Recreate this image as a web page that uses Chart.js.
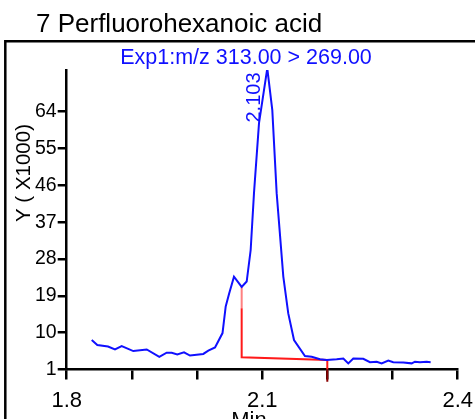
<!DOCTYPE html>
<html><head><meta charset="utf-8">
<script src="https://cdn.jsdelivr.net/npm/chart.js@4/dist/chart.umd.min.js"></script>
<style>html,body{margin:0;padding:0;background:#fff;}#wrap{position:relative;width:475px;height:419px;overflow:hidden;}</style>
</head><body><div id="wrap"><canvas id="c" width="475" height="419"></canvas></div>
<script>
// ---- data ----
const times = [1.8384,1.8470,1.8634,1.8741,1.8844,1.9022,1.9228,1.9421,1.9534,1.9611,1.9697,1.9800,1.9892,2.0096,2.0173,2.0276,2.0391,2.0440,2.0495,2.0567,2.0685,2.0762,2.0823,2.0874,2.0951,2.1078,2.1155,2.1222,2.1324,2.1400,2.1488,2.1656,2.1759,2.1887,2.1990,2.2143,2.2245,2.2321,2.2398,2.2551,2.2654,2.2757,2.2833,2.2935,2.3011,2.3165,2.3294,2.3344,2.3421,2.3524,2.3585];
const intensities = [8.2,7.0,6.6,5.9,6.7,5.5,5.9,4.1,5.1,5.1,4.7,5.2,4.4,4.8,5.6,6.4,9.9,16.4,19.7,23.7,21.2,22.5,30.2,44.1,61.2,74.6,64.4,44.1,23.7,14.7,8.2,4.3,4.1,3.5,3.3,3.5,3.7,2.5,3.7,3.6,2.8,2.9,2.5,3.2,2.8,2.7,2.5,2.9,2.8,2.9,2.8];
const baselineTimes = [2.0685,2.0685,2.0685,2.1999,2.1999,2.1999];
const baselineValues = [21.2,16.0,4.0,3.3,1.0,-2.0];
const xTickValues = [1.8,1.9,2.0,2.1,2.2,2.3,2.4];
const xTickLabels = ['1.8','','','2.1','','','2.4'];
const yTickValues = [1,10,19,28,37,46,55,64];
const yTickLabels = ['1','10','19','28','37','46','55','64'];
const titleText = '7 Perfluorohexanoic acid';
const traceText = 'Exp1:m/z 313.00 > 269.00';
const peakText = '2.103';
const yTitle = 'Y ( X1000)';
const xTitle = 'Min';

const FONT = '"Liberation Sans", Arial, sans-serif';
const BLUE = '#1010ff';

const tracePts = times.map((t,i)=>({x:t,y:intensities[i]}));
const basePts = baselineTimes.map((t,i)=>({x:t,y:baselineValues[i]}));

const decor = {
  id:'decor',
  afterDraw(chart){
    const ctx = chart.ctx;
    ctx.save();
    // frame
    ctx.strokeStyle = '#000';
    ctx.lineWidth = 2.5;
    ctx.beginPath();
    ctx.moveTo(5.3, 419); ctx.lineTo(5.3, 41.3); ctx.lineTo(475, 41.3);
    ctx.stroke();
    // title
    ctx.fillStyle = '#000';
    ctx.font = '26px ' + FONT;
    ctx.textAlign = 'left'; ctx.textBaseline = 'alphabetic';
    ctx.fillText(titleText, 36, 32);
    // trace text
    ctx.fillStyle = BLUE;
    ctx.font = '21.5px ' + FONT;
    ctx.textAlign = 'center';
    ctx.fillText(traceText, 246, 64);
    // peak label
    ctx.save();
    ctx.translate(260, 97.5);
    ctx.rotate(-Math.PI/2);
    ctx.font = '20px ' + FONT;
    ctx.textAlign = 'center';
    ctx.fillText(peakText, 0, 0);
    ctx.restore();
    // y title
    ctx.save();
    ctx.fillStyle = '#000';
    ctx.translate(30, 173);
    ctx.rotate(-Math.PI/2);
    ctx.font = '20.5px ' + FONT;
    ctx.textAlign = 'center';
    ctx.fillText(yTitle, 0, 0);
    ctx.restore();
    // x title
    ctx.fillStyle = '#000';
    ctx.font = '22px ' + FONT;
    ctx.textAlign = 'center';
    ctx.fillText(xTitle, 249, 426.5);
    ctx.restore();
  }
};

new Chart(document.getElementById('c'), {
  type:'line',
  data:{datasets:[
    {data:tracePts, borderColor:BLUE, borderWidth:2, pointRadius:0, tension:0, fill:false},
    {data:basePts, borderWidth:2, pointRadius:0, tension:0, fill:false, clip:false,
     borderColor:'#ff0000',
     segment:{borderColor: c => c.p0DataIndex===0 ? '#ff8080' : (c.p0DataIndex===4 ? '#8b0000' : '#ff1a1a')}}
  ]},
  options:{
    responsive:false, animation:false, devicePixelRatio:1,
    layout:{padding:{top:70,right:17.3,left:0,bottom:0}},
    plugins:{legend:{display:false}, tooltip:{enabled:false}},
    scales:{
      x:{type:'linear', min:1.8, max:2.4,
        afterBuildTicks: s => { s.ticks = xTickValues.map(v=>({value:v})); },
        afterFit: s => { s.height = 49.5; s.paddingLeft = 0; s.paddingRight = 0; },
        grid:{drawOnChartArea:false, drawTicks:true, tickLength:10, color:'#000', lineWidth:2.5},
        border:{display:true, color:'#000', width:2.5},
        ticks:{autoSkip:false, maxRotation:0, color:'#000', padding:8, font:{family:FONT, size:22},
          callback:(v,i)=>xTickLabels[i]}
      },
      y:{type:'linear', min:1, max:74.2,
        afterBuildTicks: s => { s.ticks = yTickValues.map(v=>({value:v})); },
        afterFit: s => { s.width = 66.7; s.paddingTop = 0; s.paddingBottom = 0; },
        grid:{drawOnChartArea:false, drawTicks:true, tickLength:9, color:'#000', lineWidth:2.5},
        border:{display:true, color:'#000', width:2.5},
        ticks:{autoSkip:false, color:'#000', padding:1, font:{family:FONT, size:19.5},
          callback:(v,i)=>yTickLabels[i]}
      }
    }
  },
  plugins:[decor]
});
</script></body></html>
